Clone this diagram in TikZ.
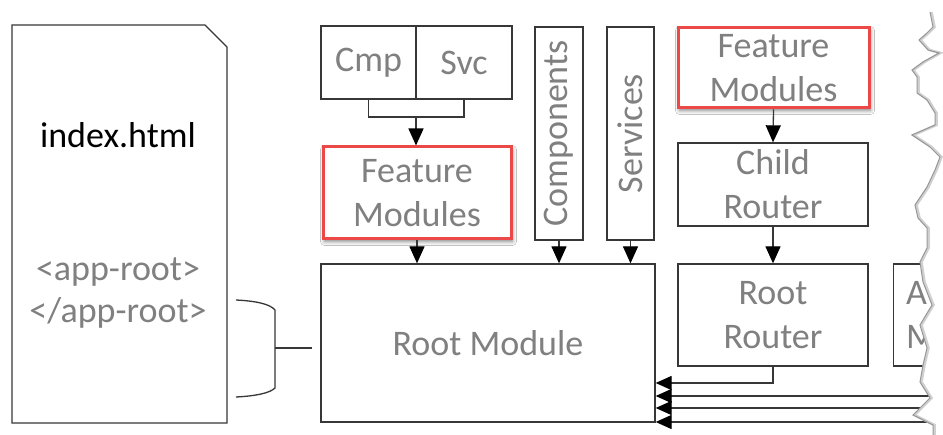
\documentclass[tikz,border=0pt]{standalone}
\usepackage{fontspec}
\setmainfont{Carlito}
\usetikzlibrary{arrows.meta,shadows.blur,calc}
\definecolor{lnc}{RGB}{55,55,55}
\definecolor{txg}{RGB}{128,128,128}
\definecolor{redc}{RGB}{236,72,72}
\definecolor{tearc}{RGB}{150,150,150}
\begin{document}
\begin{tikzpicture}[x=1pt,y=-1pt,
  box/.style={draw=lnc,line width=1.3pt,fill=white,inner sep=0pt,text=txg,align=center,
     font=\fontsize{36}{44}\selectfont},
  redbox/.style={box,draw=redc,line width=3pt,
     blur shadow={shadow xshift=1.5pt,shadow yshift=-2.5pt,shadow blur radius=4pt,shadow opacity=50}},
  lbl/.style={text=txg,font=\fontsize{36}{44}\selectfont,inner sep=0pt},
  conn/.style={draw=lnc,line width=1.3pt},
  arr/.style={conn,-{Triangle[length=17pt,width=15pt,fill=black,color=black]}},
  arrl/.style={conn,-{Triangle[length=16pt,width=14pt,fill=black,color=black]}}]
\useasboundingbox (0,0) rectangle (943,435);
\fill[white] (0,0) rectangle (943,435);

% index.html document
\draw[lnc,line width=1.3pt,fill=white] (12,25) -- (205,25) -- (227,47) -- (227,423) -- (12,423) -- cycle;
\node[lbl,text=black] (idx) at (118,135) {index.html};
\node[lbl] (ar1) at (118,272) {<app-root>};
\node[lbl] (ar2) at (118,313) {</app-root>};

% brace
\draw[conn] (236,300) .. controls (256,301) and (270,304) .. (275,310) -- (275,388)
   .. controls (270,393) and (256,396) .. (236,397);
\coordinate (bmid) at (275,348);
\coordinate (btip) at (312,348);
\draw[conn] (bmid) -- (btip);

% main boxes
\node[box,minimum width=334pt,minimum height=158pt] (rootmod) at (488,343) {Root Module};
\node[box,minimum width=95pt,minimum height=73pt] (cmp) at (368.5,62.5) {Cmp};
\node[box,minimum width=96pt,minimum height=73pt] (svc) at (464,62.5) {Svc};
\node[redbox,minimum width=188pt,minimum height=92pt] (feat1) at (417,193) {Feature\\Modules};
\node[box,minimum width=48pt,minimum height=213pt] (comp) at (559,133.5) {};
\node[lbl,rotate=90] (compt) at (comp.center) {Components};
\node[box,minimum width=47pt,minimum height=213pt] (serv) at (630.5,133.5) {};
\node[lbl,rotate=90] (servt) at (serv.center) {Services};
\node[redbox,minimum width=191pt,minimum height=80pt] (feat2) at (773.5,68) {Feature\\Modules};
\node[box,minimum width=190pt,minimum height=83pt] (child) at (773,184.5) {Child\\Router};
\node[box,minimum width=190pt,minimum height=102pt] (rootr) at (773,315) {Root\\Router};
\node[box,minimum width=120pt,minimum height=102pt,anchor=west] (part) at (893,315) {};
\node[lbl,anchor=west,align=left] (partt) at (906,315) {A\\M};

% connectors
\coordinate (join) at (416,117);
\draw[conn] (cmp.south) |- (join) -| (svc.south);
\draw[arr] (join) -- (join |- feat1.north);
\draw[arr] (feat1.south) -- (feat1.south |- rootmod.north);
\draw[arr] (comp.south) -- (comp.south |- rootmod.north);
\draw[arr] (serv.south) -- (serv.south |- rootmod.north);
\draw[arr] (feat2.south) -- (child.north);
\draw[arr] (child.south) -- (rootr.north);
\coordinate (rr) at (773,383);
\draw[arrl] (rootr.south) -- (rr) -- (rootmod.east |- rr);
\coordinate (in1) at (932,396);
\coordinate (in2) at (925,408);
\coordinate (in3) at (943,422);
\draw[arrl] (in1) -- (rootmod.east |- in1);
\draw[arrl] (in2) -- (rootmod.east |- in2);
\draw[arrl] (in3) -- (rootmod.east |- in3);

% torn edge
\def\tearpath{(930,12) -- (933,27) -- (927,33) -- (919,40) -- (928,50) -- (939,53) -- (923,62)
  -- (912,70) -- (917,77) -- (917,93) -- (927,100) -- (935,113) -- (935,125) -- (912,135)
  -- (930,147) -- (940,157) -- (935,170) -- (927,187) -- (915,205) -- (918,218) -- (927,228)
  -- (927,248) -- (920,262) -- (923,282) -- (932,305) -- (920,325) -- (927,348) -- (923,365)
  -- (920,382) -- (930,398) -- (913,415) -- (933,425) -- (933,440)}
\fill[white] (930,-5) -- \tearpath -- (960,440) -- (960,-5) -- cycle;
\draw[tearc!45,line width=2.5pt,xshift=1.5pt] \tearpath;
\draw[tearc,line width=1pt] \tearpath;
\end{tikzpicture}
\end{document}
